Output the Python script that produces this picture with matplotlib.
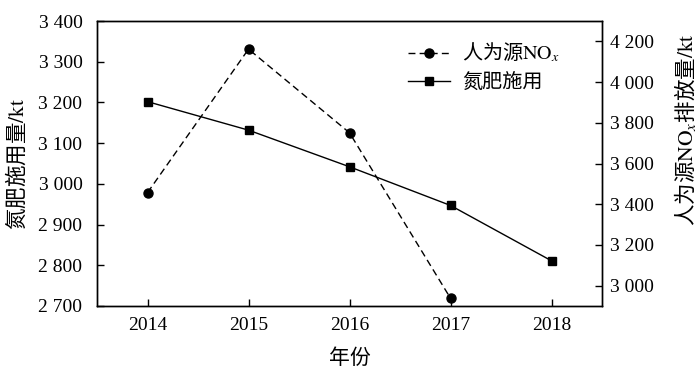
import matplotlib
matplotlib.use("Agg")
import matplotlib.pyplot as plt
from matplotlib.ticker import FuncFormatter, MultipleLocator

# ── Data ──────────────────────────────────────────────────────────────────────
years = [2014, 2015, 2016, 2017, 2018]
fert = [3202, 3132, 3042, 2947, 2811]          # 氮肥施用量 / kt (left)
nox_years = [2014, 2015, 2016, 2017]
nox = [3457, 4162, 3751, 2938]                 # 人为源NOx排放量 / kt (right)

plt.rcParams["font.family"] = ["Liberation Serif", "Noto Sans CJK SC", "DejaVu Sans"]
plt.rcParams["mathtext.fontset"] = "stix"
plt.rcParams["axes.linewidth"] = 1.0

CJK = "Noto Sans CJK SC"


def space_thousands(v, pos):
    return f"{int(round(v)):,}".replace(",", " ")


fig = plt.figure(figsize=(7.0, 3.76), dpi=100)
ax = fig.add_axes([0.1386, 0.1862, 0.7214, 0.7578])
ax2 = ax.twinx()

fs = 14

l1, = ax2.plot(nox_years, nox, color="black", linestyle=(0, (5, 3)), linewidth=1.0,
               marker="o", markersize=6.5, label="人为源$\\mathrm{NO}_x$")
l2, = ax.plot(years, fert, color="black", linestyle="-", linewidth=1.0,
              marker="s", markersize=6, label="氮肥施用")

ax.set_xlim(2013.5, 2018.5)
ax.set_ylim(2700, 3400)
ax2.set_ylim(2900, 4300)
ax.set_xticks(years)
ax.yaxis.set_major_locator(MultipleLocator(100))
ax2.set_yticks([3000, 3200, 3400, 3600, 3800, 4000, 4200])
ax.yaxis.set_major_formatter(FuncFormatter(space_thousands))
ax2.yaxis.set_major_formatter(FuncFormatter(space_thousands))

ax.tick_params(axis="both", direction="in", length=5, width=1, labelsize=fs)
ax.tick_params(axis="x", pad=8)
ax.tick_params(axis="y", pad=10.5)
ax2.tick_params(axis="y", direction="in", length=5, width=1, labelsize=fs, pad=6)

ax.set_xlabel("年份", fontsize=15, family=CJK, labelpad=9)
ax.set_ylabel("氮肥施用量$\\mathrm{/kt}$", fontsize=15.5, family=CJK)
ax2.set_ylabel("人为源$\\mathrm{NO}_x$排放量$\\mathrm{/kt}$", fontsize=15.5, family=CJK)
ax.yaxis.set_label_coords(-0.136, 0.5)
ax2.yaxis.set_label_coords(1.139, 0.62)

ax.legend(handles=[l1, l2], loc="upper left", bbox_to_anchor=(0.615, 0.93),
          frameon=False, prop={"family": CJK, "size": 14.5}, handlelength=2.1,
          handletextpad=0.6, labelspacing=0.35, borderpad=0, borderaxespad=0)

fig.savefig("out.png", dpi=100)
